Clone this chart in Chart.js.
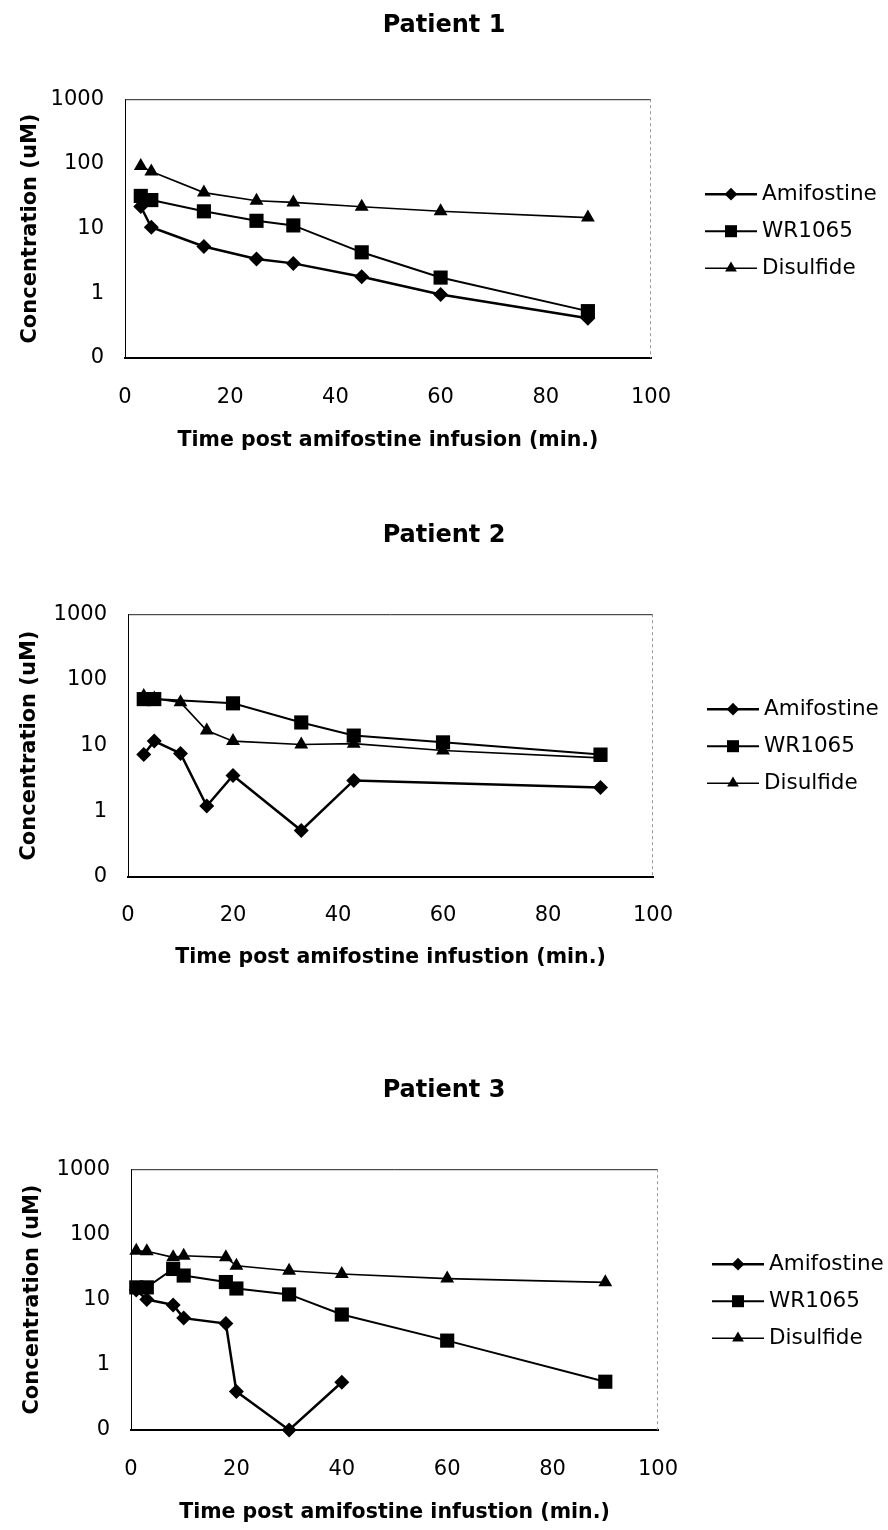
<!DOCTYPE html>
<html>
<head>
<meta charset="utf-8">
<script src="https://cdn.jsdelivr.net/npm/chart.js@4/dist/chart.umd.min.js"></script>
<style>
    body { margin: 0; background: #fff; }
    canvas { position: absolute; left: 0; }
</style>
</head>
<body>
<canvas id="p1" width="888" height="480" style="top:0px"></canvas>
<canvas id="p2" width="888" height="520" style="top:480px"></canvas>
<canvas id="p3" width="888" height="500" style="top:1030px"></canvas>
<script>
let seriesNames = ['Amifostine', 'WR1065', 'Disulfide'];
let yTickValues = [0.1, 1, 10, 100, 1000];
let yTickLabels = ['0', '1', '10', '100', '1000'];
let yTitle = 'Concentration (uM)';

// Patient 1
let p1Time = [3, 5, 15, 25, 32, 45, 60, 88];
let p1Amifostine = [22, 10.5, 5.3, 3.4, 2.9, 1.8, 0.96, 0.41];
let p1WR1065 = [32, 27.6, 18.5, 13.2, 11.2, 4.3, 1.75, 0.53];
let p1Disulfide = [93, 76, 36, 27, 25.4, 21.8, 18.5, 14.8];

// Patient 2
let p2AmifostineTime = [3, 5, 10, 15, 20, 33, 43, 90];
let p2Amifostine = [7.3, 11.7, 7.6, 1.2, 3.5, 0.51, 2.95, 2.3];
let p2WR1065Time = [3, 5, 20, 33, 43, 60, 90];
let p2WR1065 = [51, 51, 44, 22.5, 14.2, 11.2, 7.3];
let p2DisulfideTime = [3, 5, 10, 15, 20, 33, 43, 60, 90];
let p2Disulfide = [57, 52, 45.5, 17, 11.7, 10.4, 10.7, 8.4, 6.5];

// Patient 3
let p3AmifostineTime = [1, 3, 8, 10, 18, 20, 30, 40];
let p3Amifostine = [14, 10, 8.3, 5.2, 4.3, 0.39, 0.1, 0.54];
let p3Time = [1, 3, 8, 10, 18, 20, 30, 40, 60, 90];
let p3WR1065 = [15.4, 15.4, 29.5, 23.4, 18.6, 14.8, 12, 5.9, 2.35, 0.55];
let p3Disulfide = [56, 55, 44.5, 47, 44.5, 33, 27.7, 24.7, 21, 18.4];

let panels = [
    {
        id: 'p1', title: 'Patient 1',
        xTitle: 'Time post amifostine infusion (min.)',
        series: [[p1Time, p1Amifostine], [p1Time, p1WR1065], [p1Time, p1Disulfide]],
        titlePad: {top: 11, bottom: 59.4}, yAxisWidth: 125, yTitlePad: 18,
        xAxisHeight: 122, xTitlePad: 27, xTickPad: 19, rightSpace: 237
    },
    {
        id: 'p2', title: 'Patient 2',
        xTitle: 'Time post amifostine infustion (min.)',
        series: [[p2AmifostineTime, p2Amifostine], [p2WR1065Time, p2WR1065], [p2DisulfideTime, p2Disulfide]],
        titlePad: {top: 41, bottom: 64.4}, yAxisWidth: 128, yTitlePad: 17,
        xAxisHeight: 123, xTitlePad: 30, xTickPad: 18, rightSpace: 235
    },
    {
        id: 'p3', title: 'Patient 3',
        xTitle: 'Time post amifostine infustion (min.)',
        series: [[p3AmifostineTime, p3Amifostine], [p3Time, p3WR1065], [p3Time, p3Disulfide]],
        titlePad: {top: 46, bottom: 64.4}, yAxisWidth: 131, yTitlePad: 20,
        xAxisHeight: 100, xTitlePad: 5, xTickPad: 19, rightSpace: 230
    }
];

let markerStyles = [
    {pointStyle: 'rectRot', pointRadius: 7.5, borderWidth: 2.5},
    {pointStyle: 'rect', pointRadius: 10, borderWidth: 2},
    {pointStyle: 'triangle', pointRadius: 8, borderWidth: 1.6}
];
let legendRows = [95, 132, 169];

Chart.defaults.font.family = '"DejaVu Sans", sans-serif';
Chart.defaults.color = '#000';

function xy(times, values) {
    return times.map((t, i) => ({x: t, y: values[i]}));
}

// plot area frame (top and right edges, like the Excel plot area)
let framePlugin = {
    id: 'frame',
    beforeDatasetsDraw(chart) {
        let a = chart.chartArea, ctx = chart.ctx;
        ctx.save();
        ctx.lineWidth = 1;
        ctx.strokeStyle = '#222';
        ctx.beginPath();
        ctx.moveTo(a.left, a.top + 0.5);
        ctx.lineTo(a.right, a.top + 0.5);
        ctx.stroke();
        ctx.strokeStyle = '#999';
        ctx.setLineDash([3, 3]);
        ctx.beginPath();
        ctx.moveTo(a.right - 0.5, a.top);
        ctx.lineTo(a.right - 0.5, a.bottom);
        ctx.stroke();
        ctx.restore();
    }
};

// legend on the right: line with the marker in the middle
let sideLegend = {
    id: 'sideLegend',
    afterDraw(chart) {
        let a = chart.chartArea, ctx = chart.ctx;
        ctx.save();
        chart.data.datasets.forEach((ds, i) => {
            let y = a.top + legendRows[i];
            let x0 = a.right + 54, x1 = a.right + 106;
            ctx.strokeStyle = '#000';
            ctx.fillStyle = '#000';
            ctx.lineWidth = ds.borderWidth;
            ctx.beginPath();
            ctx.moveTo(x0, y);
            ctx.lineTo(x1, y);
            ctx.stroke();
            Chart.helpers.drawPoint(ctx, {
                pointStyle: ds.pointStyle, radius: ds.pointRadius * 0.85,
                rotation: 0, borderWidth: 0
            }, (x0 + x1) / 2, y);
            ctx.font = '21.5px "DejaVu Sans"';
            ctx.textBaseline = 'middle';
            ctx.textAlign = 'left';
            ctx.fillText(ds.label, x1 + 5, y);
        });
        ctx.restore();
    }
};

panels.forEach(p => {
    let datasets = p.series.map((s, i) => ({
        label: seriesNames[i],
        data: xy(s[0], s[1]),
        borderColor: '#000',
        backgroundColor: '#000',
        pointBackgroundColor: '#000',
        pointBorderColor: '#000',
        pointBorderWidth: 0,
        pointStyle: markerStyles[i].pointStyle,
        pointRadius: markerStyles[i].pointRadius,
        borderWidth: markerStyles[i].borderWidth,
        tension: 0,
        clip: false
    }));

    new Chart(document.getElementById(p.id), {
        type: 'line',
        data: {datasets: datasets},
        options: {
            responsive: false,
            animation: false,
            layout: {padding: 0},
            plugins: {
                legend: {display: false},
                tooltip: {enabled: false},
                title: {
                    display: true,
                    text: p.title,
                    color: '#000',
                    font: {size: 24, weight: 'bold'},
                    padding: p.titlePad
                }
            },
            scales: {
                x: {
                    type: 'linear', min: 0, max: 100,
                    grid: {display: false},
                    border: {color: '#000', width: 2},
                    ticks: {stepSize: 20, padding: p.xTickPad, maxRotation: 0, color: '#000', font: {size: 21}},
                    title: {
                        display: true, text: p.xTitle, color: '#000',
                        font: {size: 20.5, weight: 'bold'},
                        padding: {top: 0, bottom: p.xTitlePad}
                    },
                    afterFit: s => { s.height = p.xAxisHeight; }
                },
                y: {
                    type: 'logarithmic', min: 0.1, max: 1000,
                    grid: {display: false},
                    border: {color: '#000', width: 1},
                    afterBuildTicks: s => { s.ticks = yTickValues.map(v => ({value: v})); },
                    ticks: {
                        padding: 13, color: '#000', font: {size: 21},
                        callback: (v, i) => yTickLabels[i]
                    },
                    title: {
                        display: true, text: yTitle, color: '#000',
                        font: {size: 21, weight: 'bold'},
                        padding: {top: p.yTitlePad, bottom: 0}
                    },
                    afterFit: s => { s.width = p.yAxisWidth; }
                },
                y2: {
                    position: 'right',
                    grid: {display: false},
                    border: {display: false},
                    ticks: {display: false},
                    afterFit: s => { s.width = p.rightSpace; }
                }
            }
        },
        plugins: [framePlugin, sideLegend]
    });
});
</script>
</body>
</html>
